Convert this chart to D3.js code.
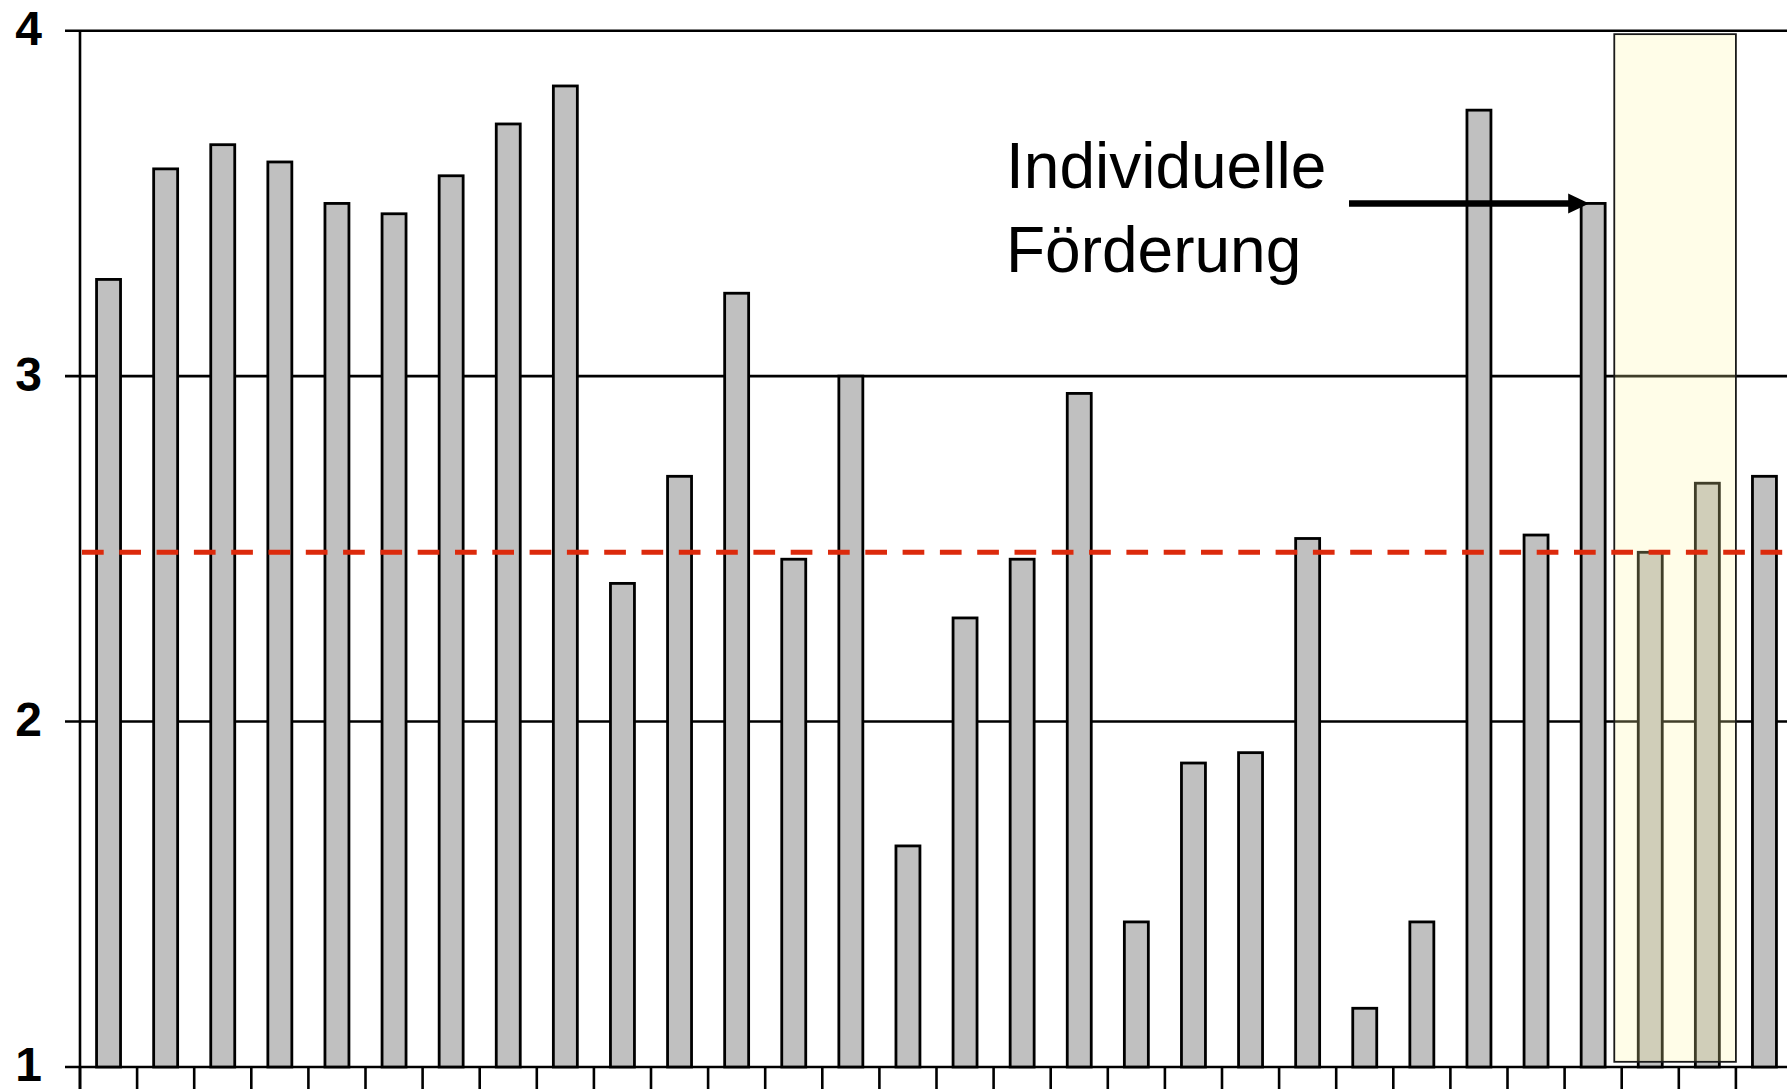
<!DOCTYPE html>
<html>
<head>
<meta charset="utf-8">
<script src="https://cdn.jsdelivr.net/npm/d3@7"></script>
<style>
  html, body { margin: 0; padding: 0; background: #ffffff; overflow: hidden; }
  svg { display: block; }
</style>
</head>
<body>
<svg id="chart" width="1787" height="1089"></svg>
<script>
// ---- Data ----
const categories = ["1","2","3","4","5","6","7","8","9","10","11","12","13","14","15",
                    "16","17","18","19","20","21","22","23","24","25","26","27","28","29","30"];
const values = [3.28, 3.60, 3.67, 3.62, 3.50, 3.47, 3.58, 3.73, 3.84, 2.40,
                2.71, 3.24, 2.47, 3.00, 1.64, 2.30, 2.47, 2.95, 1.42, 1.88,
                1.91, 2.53, 1.17, 1.42, 3.77, 2.54, 3.50, 2.49, 2.69, 2.71];
const yTicks = [1, 2, 3, 4];
const meanValue = 2.49;
const annotationLines = ["Individuelle", "Förderung"];
const annotatedIndex = 26;          // bar the arrow points at
const highlightIndices = [27, 28];  // bars inside the highlighted box

// ---- Layout ----
const W = 1787, H = 1089;
const plotLeft = 80, plotTop = 30.7, plotBottom = 1067;
const bandStep = 57.1;
const svg = d3.select("#chart");

const x = d3.scaleBand().domain(categories)
  .range([plotLeft, plotLeft + bandStep * categories.length]).padding(0);
const y = d3.scaleLinear().domain([1, 4]).range([plotBottom, plotTop]);
const barW = x.bandwidth() * 0.42;
const font = "Arial, 'Liberation Sans', Helvetica, sans-serif";

// Gridlines + y ticks
svg.append("g").selectAll("line").data(yTicks).join("line")
  .attr("x1", plotLeft - 15).attr("x2", W)
  .attr("y1", d => y(d)).attr("y2", d => y(d))
  .attr("stroke", "#000").attr("stroke-width", 2.6);

// Y labels
svg.append("g").selectAll("text").data(yTicks).join("text")
  .attr("x", 42).attr("y", d => y(d))
  .attr("dy", "0.3em")
  .attr("text-anchor", "end")
  .attr("font-family", font).attr("font-weight", "bold")
  .attr("font-size", 48)
  .text(d => d);

// Y axis line
svg.append("line")
  .attr("x1", plotLeft).attr("x2", plotLeft)
  .attr("y1", plotTop).attr("y2", H)
  .attr("stroke", "#000").attr("stroke-width", 2.6);

// X tick marks at category boundaries
svg.append("g").selectAll("line").data(categories).join("line")
  .attr("x1", d => x(d)).attr("x2", d => x(d))
  .attr("y1", plotBottom).attr("y2", H)
  .attr("stroke", "#000").attr("stroke-width", 2.6);

// Bars
svg.append("g").selectAll("rect").data(values).join("rect")
  .attr("x", (d, i) => x(categories[i]) + (x.bandwidth() - barW) / 2)
  .attr("width", barW)
  .attr("y", d => y(d))
  .attr("height", d => y(1) - y(d))
  .attr("fill", "#c0c0c0")
  .attr("stroke", "#000").attr("stroke-width", 2.8);

// Highlight box over the last group
const hx0 = x(categories[highlightIndices[0]]) - x.bandwidth() * 0.13;
const hx1 = x(categories[highlightIndices[1]]) + x.bandwidth();
svg.append("rect")
  .attr("x", hx0).attr("width", hx1 - hx0)
  .attr("y", y(3.99)).attr("height", y(1.015) - y(3.99))
  .attr("fill", "rgb(255,247,163)").attr("fill-opacity", 0.25)
  .attr("stroke", "#1a1a1a").attr("stroke-width", 1.8);

// Mean dashed line (drawn on top)
svg.append("line")
  .attr("x1", plotLeft).attr("x2", W)
  .attr("y1", y(meanValue)).attr("y2", y(meanValue))
  .attr("stroke", "#dc2a0c").attr("stroke-width", 5)
  .attr("stroke-dasharray", "21.7 15.6")
  .attr("stroke-dashoffset", -2);

// Annotation text
const ann = svg.append("text")
  .attr("font-family", font).attr("font-size", 64)
  .attr("fill", "#000");
ann.selectAll("tspan").data(annotationLines).join("tspan")
  .attr("x", 1006)
  .attr("y", (d, i) => 188 + i * 83.5)
  .text(d => d);

// Arrow
const tipX = x(categories[annotatedIndex]) + (x.bandwidth() - barW) / 2 + 8;
const tipY = y(values[annotatedIndex]);
svg.append("line")
  .attr("x1", 1349).attr("x2", tipX - 18)
  .attr("y1", tipY).attr("y2", tipY)
  .attr("stroke", "#000").attr("stroke-width", 6.5);
svg.append("path")
  .attr("d", `M${tipX},${tipY} L${tipX - 21},${tipY - 10} L${tipX - 21},${tipY + 10} Z`)
  .attr("fill", "#000");
</script>
</body>
</html>
